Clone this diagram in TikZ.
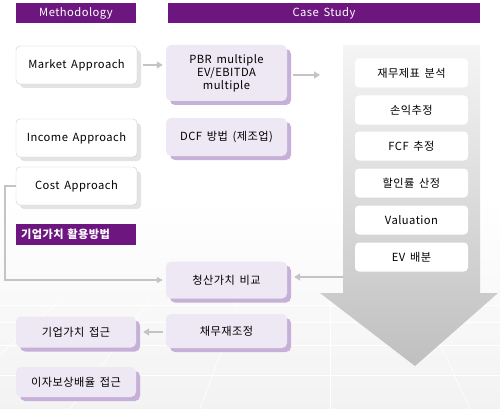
\documentclass[tikz,border=0pt]{standalone}
\usepackage{fontspec}
\setmainfont[LetterSpace=4, WordSpace=1.6]{Noto Sans CJK KR}
\usepackage{tikz}
\usetikzlibrary{positioning, calc, arrows.meta, shadows}
\definecolor{hdpurple}{HTML}{6E1680}
\definecolor{lavfill}{HTML}{EEE8F4}
\definecolor{lavshade}{HTML}{C6B0D8}
\definecolor{linkgray}{HTML}{C4C4C4}

\begin{document}
\begin{tikzpicture}[
  x=1pt, y=-1pt,
  every node/.style={font=\fontsize{11.2}{13}\selectfont},
  hdbar/.style={fill=hdpurple, text=white, minimum height=20pt, inner sep=0pt},
  methbox/.style={draw=gray!40, fill=white, rounded corners=4pt,
                  minimum width=121pt, minimum height=38pt,
                  general shadow={fill=gray!22, shadow xshift=4pt, shadow yshift=-4pt}},
  casebox/.style={fill=lavfill, rounded corners=5pt, minimum width=121pt,
                  align=center, inner sep=2pt,
                  general shadow={fill=lavshade, shadow xshift=4pt, shadow yshift=-4pt}},
  stepbox/.style={fill=white, rounded corners=4pt, minimum width=113pt,
                  minimum height=29pt},
  link/.style={draw=linkgray, line width=2pt, -{Triangle[length=6pt, width=7pt]}},
]
  \useasboundingbox (0,0) rectangle (500,409);

  % Background floor
  \shade[top color=white, bottom color=gray!10] (0,200) rectangle (500,409);
  \foreach \xa/\xb in {60/-60, 150/70, 240/200, 330/330, 420/470}
    \draw[white, line width=0.6pt] (\xa,300) -- (\xb,409);
  \foreach \yy in {305, 322, 345, 375}
    \draw[white, line width=0.6pt] (0,\yy) -- (500,\yy);

  % Headers
  \node[hdbar, minimum width=120pt] (methhd) at (76,13) {Methodology};
  \node[hdbar, minimum width=312pt] (casehd) at (324,13) {Case Study};
  \node[hdbar, minimum width=120pt, minimum height=21pt, text width=110pt,
        font=\fontsize{11.2}{13}\selectfont\bfseries]
    (usehd) at (76,234.5) {기업가치 활용방법};

  % Big process arrow
  \shade[top color=gray!8, bottom color=gray!50]
    (343,45) -- (480,45) -- (480,293) -- (498,293) -- (415,366)
    -- (320,293) -- (343,293) -- cycle;
  \coordinate (flowin) at (320,75);
  \coordinate (flowout) at (343,277);

  % Steps inside the arrow
  \node[stepbox] (fs)   at (411.5,73)  {재무제표 분석};
  \node[stepbox] (pl)   at (411.5,110) {손익추정};
  \node[stepbox] (fcf)  at (411.5,146) {FCF 추정};
  \node[stepbox] (disc) at (411.5,183) {할인률 산정};
  \node[stepbox] (val)  at (411.5,220) {Valuation};
  \node[stepbox] (ev)   at (411.5,257) {EV 배분};

  % Methodology boxes
  \node[methbox] (mkt)  at (76.5,65)  {Market Approach};
  \node[methbox] (inc)  at (76.5,138) {Income Approach};
  \node[methbox] (cost) at (76.5,186) {Cost Approach};

  % Case study boxes
  \node[casebox, minimum height=56pt] (pbr)  at (226.5,73)  {PBR multiple\\EV/EBITDA\\multiple};
  \node[casebox, minimum height=38pt] (dcf)  at (226.5,137) {DCF 방법 (제조업)};
  \node[casebox, minimum height=37pt] (liq)  at (226.5,280) {청산가치 비교};
  \node[casebox, minimum height=34pt] (debt) at (226.5,331) {채무재조정};
  \node[casebox, minimum width=120pt, minimum height=31pt] (evapp) at (76,332) {기업가치 접근};
  \node[casebox, minimum width=120pt, minimum height=30pt] (icr)   at (76,382) {이자보상배율 접근};

  % Connectors
  \draw[link] ([xshift=6pt]mkt.east) -- ([xshift=-3pt]mkt.east -| pbr.west);
  \draw[link] ([xshift=6pt, yshift=-2pt]pbr.east) -- (flowin);
  \draw[link] (flowout) -- ([xshift=7pt]flowout -| liq.east);
  \draw[draw=linkgray, line width=1.5pt, -{Triangle[length=6pt, width=6pt]}]
    (cost.west) -- ++(-11,0) |- ([xshift=-3pt]liq.west);
  \draw[link] ([xshift=-3pt, yshift=-1pt]debt.west) -- ([xshift=7pt, yshift=-1pt]debt.west -| evapp.east);
\end{tikzpicture}
\end{document}
